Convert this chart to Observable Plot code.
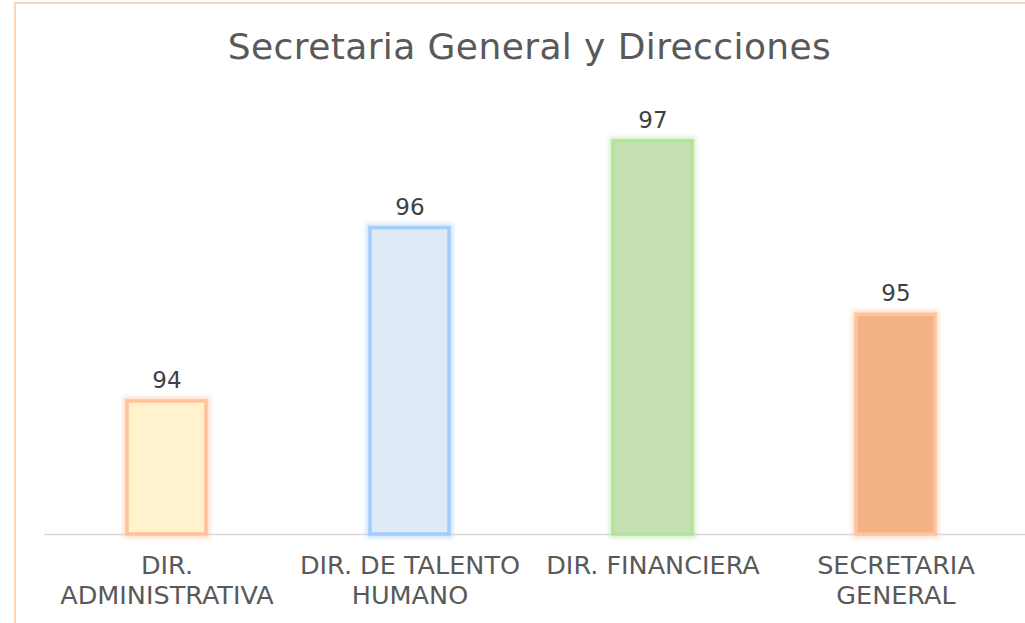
<!DOCTYPE html>
<html>
<head>
<meta charset="utf-8">
<script src="https://cdn.jsdelivr.net/npm/d3@7"></script>
<script src="https://cdn.jsdelivr.net/npm/@observablehq/plot@0.6"></script>
<style>
  html, body { margin: 0; padding: 0; width: 1025px; height: 623px; overflow: hidden; background: #fff; }
  #frame { position: absolute; left: 14px; top: 2px; width: 1100px; height: 700px; border: 2px solid #fcd3b4; box-sizing: border-box; pointer-events: none; }
  #title { position: relative; height: 100px; box-sizing: border-box; padding-top: 28.5px; padding-left: 34px; text-align: center;
           font-family: "DejaVu Sans", sans-serif; font-size: 36px; line-height: 36px; letter-spacing: 0.4px; color: #595959; white-space: nowrap; }
  #chart { position: relative; }
  #chart svg { display: block; }
</style>
</head>
<body>
<div id="frame"></div>
<div id="title">Secretaria General y Direcciones</div>
<div id="chart"></div>
<script>
const categories = ["DIR. ADMINISTRATIVA", "DIR. DE TALENTO HUMANO", "DIR. FINANCIERA", "SECRETARIA GENERAL"];
const values = [94, 96, 97, 95];
const tickLabels = ["DIR.\nADMINISTRATIVA", "DIR. DE TALENTO\nHUMANO", "DIR. FINANCIERA", "SECRETARIA\nGENERAL"];
const yMin = 92.465;

// styles
const fills = ["#fff2cc", "#deebf7", "#c5e0b4", "#f4b183"];
const strokes = ["#ffc29b", "#a3cdfa", "#b3e29a", "#fbc5a0"];

const data = categories.map((c, i) => ({category: c, value: values[i], label: tickLabels[i], fill: fills[i], stroke: strokes[i]}));

const plot = Plot.plot({
  width: 1025,
  height: 523,
  marginLeft: 44,
  marginRight: 0,
  marginTop: 0,
  marginBottom: 0,
  style: {fontFamily: "DejaVu Sans, sans-serif", color: "#595959", background: "transparent", overflow: "visible"},
  x: {domain: categories, range: [43.85, 1017.15], paddingInner: 0.675, paddingOuter: 0.3375, axis: null},
  y: {domain: [yMin, 97], range: [434, 41], axis: null},
  marks: [
    Plot.ruleY([yMin], {stroke: "#d9d9d9", strokeWidth: 1.5}),
    Plot.barY(data, {x: "category", y1: () => yMin, y2: "value", fill: "none", stroke: d => d.stroke, strokeWidth: 8, strokeOpacity: 0.55}),
    Plot.barY(data, {x: "category", y1: () => yMin, y2: "value", fill: d => d.fill, stroke: d => d.stroke, strokeWidth: 3.5}),
    Plot.text(data, {x: "category", y: "value", text: d => String(d.value), dy: -13.5, lineAnchor: "bottom", fontSize: 23, fill: "#404040"}),
    Plot.text(data, {x: "category", y: () => yMin, text: "label", dy: 19, lineAnchor: "top", lineHeight: 1.157, fontSize: 25.5, fill: "#595959"})
  ]
});

// soft glow on the outer stroke layer
const svg = plot.tagName.toLowerCase() === "svg" ? plot : plot.querySelector("svg");
const ns = "http://www.w3.org/2000/svg";
const defs = document.createElementNS(ns, "defs");
defs.innerHTML = '<filter id="glow" x="-30%" y="-30%" width="160%" height="160%"><feGaussianBlur stdDeviation="2"/></filter>';
svg.insertBefore(defs, svg.firstChild);
const barGroups = svg.querySelectorAll('g[aria-label="bar"]');
if (barGroups.length) barGroups[0].setAttribute("filter", "url(#glow)");

document.getElementById("chart").appendChild(plot);
</script>
</body>
</html>
